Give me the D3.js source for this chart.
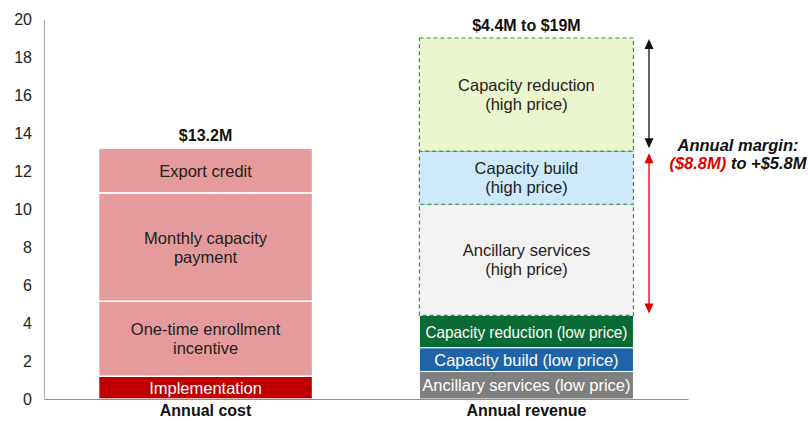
<!DOCTYPE html>
<html><head><meta charset="utf-8">
<script src="https://cdn.jsdelivr.net/npm/d3@7"></script>
<style>body{margin:0;background:#fff;font-family:"Liberation Sans",Arial,sans-serif;}</style>
</head><body><svg id="c" width="808" height="421"></svg>
<script>
const categories = ["Annual cost", "Annual revenue"];
const yTicks = [0,2,4,6,8,10,12,14,16,18,20];
// Cost segments (bottom to top)
const costLabels = ["Implementation", "One-time enrollment\nincentive", "Monthly capacity\npayment", "Export credit"];
const costValues = [1.2, 3.95, 5.7, 2.35];
// Revenue segments (bottom to top)
const revLabels = ["Ancillary services (low price)", "Capacity build (low price)", "Capacity reduction (low price)",
  "Ancillary services\n(high price)", "Capacity build\n(high price)", "Capacity reduction\n(high price)"];
const revValues = [1.45, 1.25, 1.7, 5.85, 2.8, 5.95];
const totals = ["$13.2M", "$4.4M to $19M"];
const marginRange = [13.2, 19, 4.4];

const costFill = ["#c00000", "#e59b9b", "#e59b9b", "#e59b9b"];
const costText = ["#ffffff", "#222", "#222", "#222"];
const revFill = ["#7f7f7f", "#2064a8", "#0b6b35", "#f2f2f2", "#cdeafc", "#ebf6cf"];
const revText = ["#ffffff", "#ffffff", "#ffffff", "#222", "#222", "#222"];
const revDashed = [false, false, false, true, true, true];

const FS = 16.5;
const svg = d3.select("#c");
const y = d3.scaleLinear().domain([0,20]).range([399,19]);
const x = d3.scaleBand().domain(categories).range([44,688]).paddingInner(0.333).paddingOuter(0.17);

// y axis
const ya = svg.append("g").attr("transform","translate(44,0)").call(d3.axisLeft(y).tickValues(yTicks).tickSize(0).tickPadding(12));
ya.select(".domain").attr("stroke","#b0b0b0").attr("stroke-width",1.2);
ya.selectAll("text").attr("font-size",16).attr("fill","#222").attr("font-family","Liberation Sans, Arial, sans-serif");

function stack(vals){ let s=0; return vals.map(v=>{const r=[s,s+v]; s+=v; return r;}); }

function drawLabel(cx, cy, txt, color, maxW){
  const lines = txt.split("\n");
  const lh = 19;
  const t = svg.append("text").attr("x",cx).attr("text-anchor","middle").attr("font-size",FS).attr("fill",color);
  lines.forEach((l,i)=>{
    const ts = t.append("tspan").attr("x",cx).attr("y", cy + (i - (lines.length-1)/2)*lh + 6).text(l);
    const w = ts.node().getComputedTextLength();
    if (w > maxW) ts.attr("textLength", maxW).attr("lengthAdjust","spacingAndGlyphs");
  });
}

// Cost bar
const cs = stack(costValues);
const cx0 = x("Annual cost"), bw = x.bandwidth();
cs.forEach((r,i)=>{
  svg.append("rect").attr("x",cx0).attr("width",bw).attr("y",y(r[1])).attr("height",y(r[0])-y(r[1]))
    .attr("fill",costFill[i]).attr("stroke","#fff").attr("stroke-width",1.5);
  drawLabel(cx0+bw/2, (y(r[0])+y(r[1]))/2, costLabels[i], costText[i], bw-4);
});

// Revenue bar
const rs = stack(revValues);
const rx0 = x("Annual revenue");
rs.forEach((r,i)=>{
  const rect = svg.append("rect").attr("x",rx0).attr("width",bw).attr("y",y(r[1])).attr("height",y(r[0])-y(r[1]))
    .attr("fill",revFill[i]);
  if(revDashed[i]) rect.attr("stroke","#3b8a58").attr("stroke-width",1.2).attr("stroke-dasharray","4,3");
  else rect.attr("stroke","#fff").attr("stroke-width",1);
  drawLabel(rx0+bw/2, (y(r[0])+y(r[1]))/2, revLabels[i], revText[i], i===2 ? bw-12 : bw-2);
});

// x axis
const xa = svg.append("g").attr("transform","translate(0,399)").call(d3.axisBottom(x).tickSize(0).tickPadding(6));
xa.select(".domain").attr("stroke","#909090").attr("stroke-width",1.2);
xa.selectAll("text").attr("font-size",16).attr("font-weight","bold").attr("fill","#111").attr("font-family","Liberation Sans, Arial, sans-serif");

// totals
const totTops = [d3.sum(costValues), d3.sum(revValues)];
categories.forEach((c,i)=>{
  svg.append("text").attr("x",x(c)+bw/2).attr("y",y(totTops[i])-7).attr("text-anchor","middle")
    .attr("font-size",16).attr("font-weight","bold").attr("fill","#111").text(totals[i]);
});

// arrows (double-headed, vertical)
const ax = 649;
function varrow(yTop, yBot, color){
  svg.append("line").attr("x1",ax).attr("x2",ax).attr("y1",yTop+8).attr("y2",yBot-8)
    .attr("stroke",color).attr("stroke-width",1.3);
  svg.append("path").attr("d",`M${ax},${yTop} L${ax-4.5},${yTop+10} L${ax+4.5},${yTop+10} Z`).attr("fill",color);
  svg.append("path").attr("d",`M${ax},${yBot} L${ax-4.5},${yBot-10} L${ax+4.5},${yBot-10} Z`).attr("fill",color);
}
varrow(y(marginRange[1])+1, y(marginRange[0]), "#111");
varrow(y(marginRange[0])+5, y(marginRange[2])-2, "#e00000");

// margin annotation
const mt = svg.append("text").attr("x",738).attr("text-anchor","middle").attr("font-size",16.5)
  .attr("font-weight","bold").attr("font-style","italic");
mt.append("tspan").attr("x",738).attr("y",151).attr("fill","#111").text("Annual margin:");
const l2 = mt.append("tspan").attr("x",738).attr("y",169);
l2.append("tspan").attr("fill","#e00000").text("($8.8M)");
l2.append("tspan").attr("fill","#111").text(" to +$5.8M");
</script></body></html>
